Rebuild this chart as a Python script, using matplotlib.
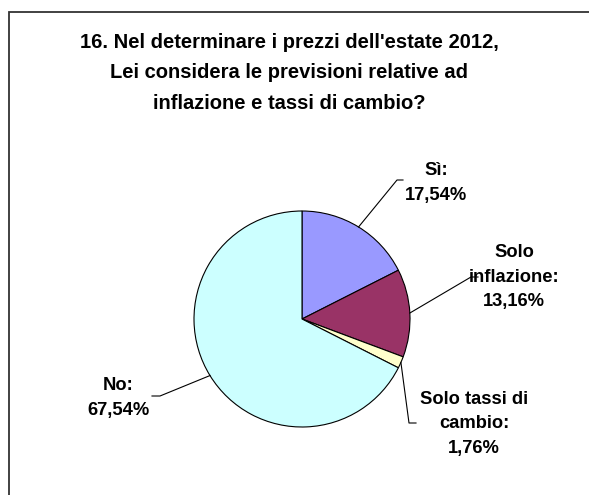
import numpy as np
import matplotlib
matplotlib.use('Agg')
import matplotlib.pyplot as plt
from matplotlib.patches import Rectangle

plt.rcParams['font.family'] = ['Liberation Sans', 'DejaVu Sans']

# survey answers, clockwise from 12 o'clock
labels = ['Sì', 'Solo\ninflazione', 'Solo tassi di\ncambio', 'No']
shares = [17.54, 13.16, 1.76, 67.54]
colors = ['#9999FF', '#993366', '#FFFFCC', '#CCFFFF']
title = ("16. Nel determinare i prezzi dell'estate 2012,\n"
         "Lei considera le previsioni relative ad\n"
         "inflazione e tassi di cambio?")

W, H = 589, 495
fig = plt.figure(figsize=(W / 100, H / 100), dpi=100)
ax = fig.add_axes([0, 0, 1, 1])

# chart frame, runs off the right and bottom edges
fig.patches.append(Rectangle((9 / W, -0.1), 1.2, (H - 12) / H + 0.1,
                             transform=fig.transFigure, fill=False,
                             edgecolor='#333333', linewidth=1.3))

cx, cy, r = 302, H - 319, 108
wedges, _ = ax.pie(shares, colors=colors, startangle=90, counterclock=False,
                   center=(cx, cy), radius=r, frame=True,
                   wedgeprops=dict(edgecolor='black', linewidth=0.8))
ax.set_xlim(0, W)
ax.set_ylim(0, H)
ax.set_aspect('equal')
ax.axis('off')

ax.text(289, H - 73, title, ha='center', va='center', fontsize=14.5,
        fontweight='bold', linespacing=1.75, multialignment='center')

# label centres, leader elbows and leader ends (pixels from top-left)
label_pos = [(436, 183), (514, 277), (474, 424), (118, 398)]
elbows = [(397, 180), (471, 277), (409, 423), (160, 396)]
ends = [(403, 180), (478, 277), (416, 423), (152, 396)]

for w, lab, val, (lx, ly), (ex, ey), (tx, ty) in zip(
        wedges, labels, shares, label_pos, elbows, ends):
    ang = np.deg2rad((w.theta1 + w.theta2) / 2)
    px, py = cx + r * np.cos(ang), cy + r * np.sin(ang)
    ax.plot([px, ex, tx], [py, H - ey, H - ty], color='black', linewidth=0.8)
    txt = f"{lab}:\n{val:.2f}%".replace('.', ',')
    ax.text(lx, H - ly, txt, ha='center', va='center', fontsize=13.2,
            fontweight='bold', linespacing=1.6, multialignment='center')

fig.savefig('out.png', dpi=100)
